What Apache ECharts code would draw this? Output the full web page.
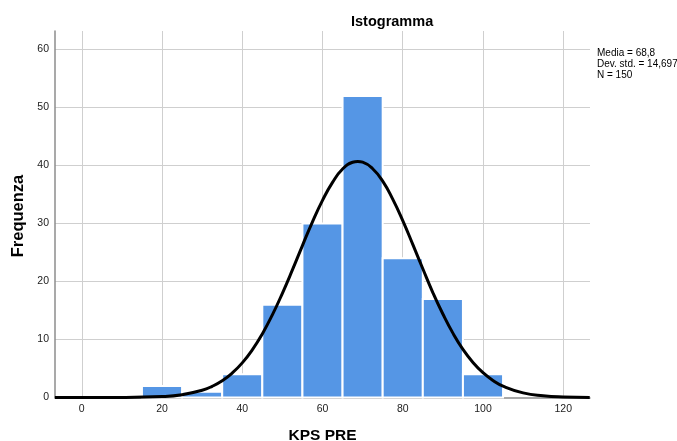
<!DOCTYPE html>
<html>
<head>
<meta charset="utf-8">
<script src="https://cdn.jsdelivr.net/npm/echarts@6/dist/echarts.min.js"></script>
<style>html,body{margin:0;padding:0;background:#fff}#c{width:677px;height:441px}</style>
</head>
<body>
<div id="c"></div>
<script>
var binLow = [15, 25, 35, 45, 55, 65, 75, 85, 95];
var binHigh = [25, 35, 45, 55, 65, 75, 85, 95, 105];
var counts = [2, 1, 4, 16, 30, 52, 24, 17, 4];
var curveX = [-6.7, 0, 10, 20, 25, 30, 32.5, 35, 37.5, 40, 42.5, 45, 47.5, 50, 52.5, 55, 57.5, 60, 62.5, 65, 67.5, 68.8, 70, 72.5, 75, 77.5, 80, 82.5, 85, 87.5, 90, 92.5, 95, 97.5, 100, 102.5, 105, 110, 115, 120, 126.6];
var curveY = [0, 0, 0.01, 0.16, 0.48, 1.25, 1.93, 2.89, 4.22, 5.97, 8.21, 10.97, 14.25, 17.97, 22.0, 26.2, 30.3, 34.0, 37.1, 39.4, 40.56, 40.7, 40.58, 39.45, 37.3, 34.2, 30.5, 26.4, 22.2, 18.1, 14.4, 11.1, 8.31, 6.05, 4.28, 2.94, 1.96, 0.80, 0.29, 0.09, 0.02];
var xTicks = [0, 20, 40, 60, 80, 100, 120];
var yTicks = [0, 10, 20, 30, 40, 50, 60];
var statsLines = ['Media = 68,8', 'Dev. std. = 14,697', 'N = 150'];

var FONT = '"Liberation Sans", Arial, sans-serif';
var chart = echarts.init(document.getElementById('c'), null, {renderer: 'canvas'});

var histData = binLow.map(function (lo, i) { return [lo, binHigh[i], counts[i]]; });
var curveData = curveX.map(function (x, i) { return [x, curveY[i]]; });
var gridMarks = xTicks.map(function (v) { return {xAxis: v}; })
  .concat(yTicks.filter(function (v) { return v > 0; }).map(function (v) { return {yAxis: v}; }));

chart.setOption({
  animation: false,
  backgroundColor: '#fff',
  title: {
    text: 'Istogramma',
    left: 346, top: 9,
    textStyle: {fontFamily: FONT, fontSize: 14.5, fontWeight: 'bold', color: '#000'}
  },
  graphic: [{
    type: 'text', left: 597, top: 48,
    style: {text: statsLines.join('\n'), fontFamily: FONT, fontSize: 10, lineHeight: 11, fill: '#000'}
  }, {
    type: 'text', x: 18.5, y: 216, rotation: Math.PI / 2,
    style: {text: 'Frequenza', fontFamily: FONT, fontSize: 16.5, fontWeight: 'bold', fill: '#000', align: 'center', verticalAlign: 'middle'}
  }],
  grid: {left: 55, top: 31, right: 87, bottom: 43.5, containLabel: false, outerBoundsMode: 'none'},
  xAxis: {
    type: 'value', min: -6.67, max: 126.67,
    name: 'KPS PRE', nameLocation: 'middle', nameGap: 30,
    nameTextStyle: {fontFamily: FONT, fontSize: 15.5, fontWeight: 'bold', color: '#000'},
    axisLine: {show: true, onZero: false, lineStyle: {color: '#8c8c8c', width: 1.5}},
    axisTick: {show: false},
    splitLine: {show: false},
    axisLabel: {customValues: xTicks, margin: 6, fontFamily: FONT, fontSize: 10.5, color: '#222'}
  },
  yAxis: {
    type: 'value', min: 0, max: 63.2,
    axisLine: {show: true, onZero: false, lineStyle: {color: '#8c8c8c', width: 1.5}},
    axisTick: {show: false},
    splitLine: {show: false},
    axisLabel: {customValues: yTicks, margin: 6, fontFamily: FONT, fontSize: 10.5, color: '#222'}
  },
  series: [
    {
      type: 'line', data: [], z: 0, silent: true,
      markLine: {
        z: 0, silent: true, symbol: 'none', label: {show: false}, animation: false,
        lineStyle: {color: '#cfcfcf', type: 'solid', width: 1},
        emphasis: {disabled: true},
        data: gridMarks
      }
    },
    {
      type: 'custom', z: 2,
      data: histData,
      encode: {x: [0, 1], y: 2},
      renderItem: function (params, api) {
        var p0 = api.coord([api.value(0), api.value(2)]);
        var p1 = api.coord([api.value(1), 0]);
        return {
          type: 'rect',
          shape: {x: p0[0], y: p0[1], width: p1[0] - p0[0], height: p1[1] - p0[1]},
          style: {fill: '#5596e5', stroke: '#ffffff', lineWidth: 2}
        };
      }
    },
    {
      type: 'line', z: 3, data: curveData, showSymbol: false, smooth: true,
      clip: true,
      lineStyle: {color: '#000', width: 3}
    }
  ]
});
</script>
</body>
</html>
